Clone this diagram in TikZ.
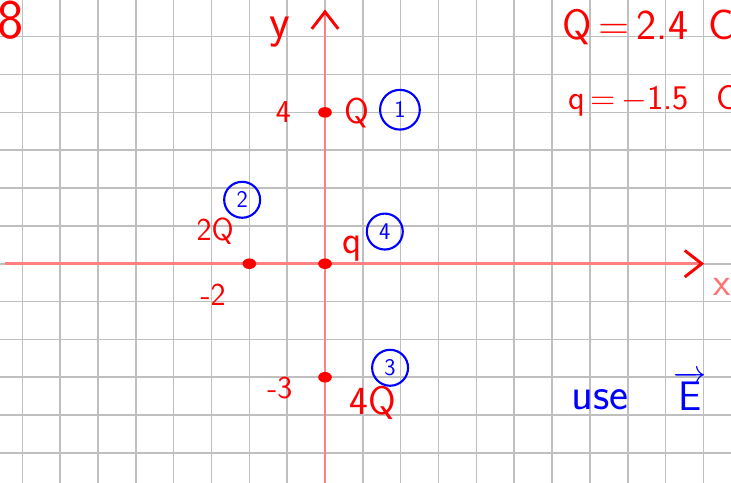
\documentclass[tikz,border=0pt]{standalone}
\usepackage{tikz}
\usetikzlibrary{arrows.meta,positioning,shapes.geometric}

\begin{document}
\begin{tikzpicture}[
    node distance=0.3cm,
    grid/.style={draw=gray!50, line width=1.2pt},
    axis/.style={draw=red!50, line width=2pt},
    tip/.style={-{Straight Barb[length=4.5mm, width=7mm, line width=2.2pt, color=red]}},
    charge/.style={ellipse, fill=red, inner sep=0pt, minimum width=0.36cm, minimum height=0.28cm},
    lbl/.style={text=red, font=\sffamily\fontsize{24}{26}\selectfont, inner sep=0pt},
    big/.style={text=red, font=\sffamily\fontsize{30}{32}\selectfont, inner sep=0pt},
    num/.style={circle, draw=blue, text=blue, line width=1.6pt, minimum size=0.95cm, inner sep=0pt, font=\sffamily\fontsize{18}{18}\selectfont},
    note/.style={text=blue, font=\sffamily\fontsize{34}{36}\selectfont, inner sep=0pt}
]
\fill[white] (-8.59,-5.79) rectangle (10.73,6.97);
\useasboundingbox (-8.59,-5.79) rectangle (10.73,6.97);
\draw[grid] (-8.59,-5.79) grid (10.73,6.97);

\coordinate (xstart) at (-8.45,0);
\coordinate (xend) at (10.02,0);
\coordinate (ystart) at (0,-5.79);
\coordinate (yend) at (0,6.72);
\draw[axis, tip] (xstart) -- (xend);
\draw[axis, tip] (ystart) -- (yend);
\node[text=red!55, font=\sffamily\fontsize{30}{30}\selectfont, inner sep=0pt] (xlab) at (10.5,-0.6) {x};
\node[big, font=\sffamily\fontsize{36}{36}\selectfont] (ylab) at (-1.19,6.13) {y};

\node[charge] (qone) at (0,4) {};
\node[charge] (qtwo) at (-2,0) {};
\node[charge] (qthree) at (0,-3) {};
\node[charge] (qfour) at (0,0) {};

\node[lbl] (lfour) at (-1.1,4) {4};
\node[lbl, font=\sffamily\fontsize{27}{28}\selectfont] (lQ) at (0.85,3.98) {Q};
\node[num, minimum size=1.05cm] (cone) at (1.98,4.07) {1};

\node[lbl] (ltwoQ) at (-2.9,0.85) {2Q};
\node[num] (ctwo) at (-2.19,1.69) {2};
\node[lbl] (lmtwo) at (-2.96,-0.82) {-2};

\node[big] (lq) at (0.71,0.4) {q};
\node[num] (cfour) at (1.58,0.85) {4};

\node[lbl] (lmthree) at (-1.19,-3.28) {-3};
\node[big] (lfourQ) at (1.27,-3.67) {4Q};
\node[num] (cthree) at (1.72,-2.75) {3};

\node[big, font=\sffamily\fontsize{42}{42}\selectfont] (eight) at (-8.3,6.43) {8};
\node[big, anchor=base west, font=\sffamily\fontsize{32}{34}\selectfont] (qvalue) at (6.26,5.92) {Q\,=\,2.4\ \,C};
\node[big, anchor=base west, font=\sffamily\fontsize{26}{28}\selectfont] (qqvalue) at (6.42,4.07) {q\,=\,$-$1.5\ \ \,C};

\node[note, anchor=base] (use) at (7.27,-3.86) {use};
\node[note, anchor=base, font=\sffamily\fontsize{31}{32}\selectfont] (efield) at (9.64,-3.88) {$\overrightarrow{\textsf{E}}$};
\end{tikzpicture}
\end{document}
